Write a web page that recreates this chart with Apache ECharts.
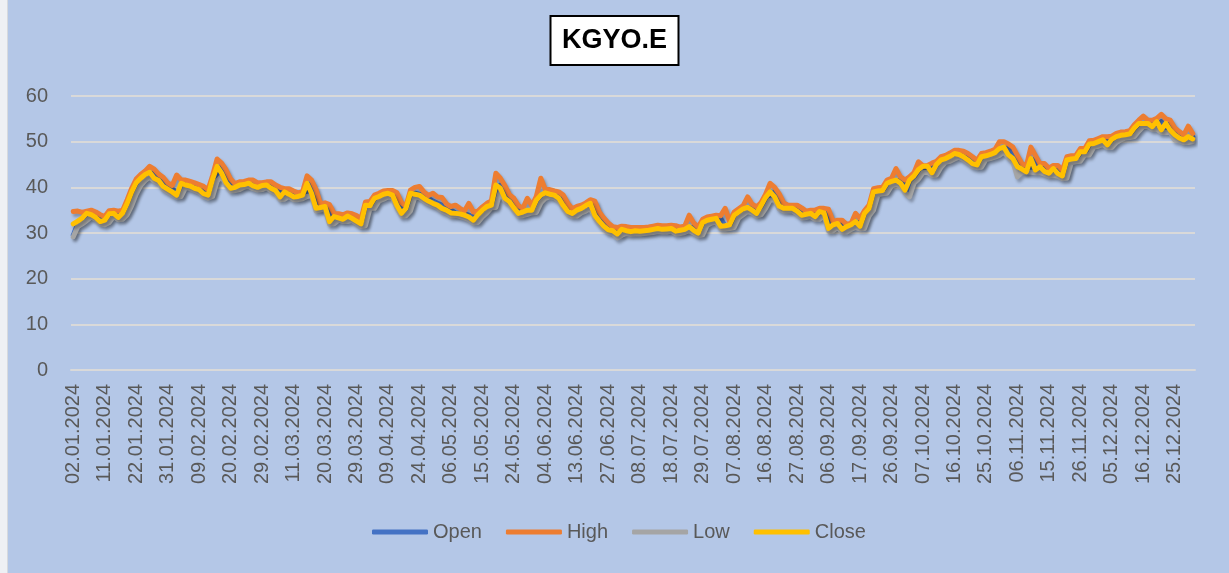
<!DOCTYPE html>
<html>
<head>
<meta charset="utf-8">
<script src="https://cdn.jsdelivr.net/npm/echarts@6/dist/echarts.min.js"></script>
<style>
html,body{margin:0;padding:0;background:#B4C7E7;}
#chart{position:absolute;left:0;top:0;width:1229px;height:573px;}
#strip{position:absolute;left:0;top:0;width:7px;height:573px;background:#eef0f4;border-right:1px solid #d6d9de;z-index:5;}
</style>
</head>
<body>
<div id="chart"></div>
<div id="strip"></div>
<script>
const dates = [
"02.01.2024","03.01.2024","04.01.2024","05.01.2024","08.01.2024","09.01.2024","10.01.2024","11.01.2024","12.01.2024","15.01.2024","16.01.2024","17.01.2024","18.01.2024","19.01.2024","22.01.2024","23.01.2024","24.01.2024","25.01.2024","26.01.2024","29.01.2024","30.01.2024","31.01.2024",
"01.02.2024","02.02.2024","05.02.2024","06.02.2024","07.02.2024","08.02.2024","09.02.2024","12.02.2024","13.02.2024","14.02.2024","15.02.2024","16.02.2024","19.02.2024","20.02.2024","21.02.2024","22.02.2024","23.02.2024","26.02.2024","27.02.2024","28.02.2024","29.02.2024",
"01.03.2024","04.03.2024","05.03.2024","06.03.2024","07.03.2024","08.03.2024","11.03.2024","12.03.2024","13.03.2024","14.03.2024","15.03.2024","18.03.2024","19.03.2024","20.03.2024","21.03.2024","22.03.2024","25.03.2024","26.03.2024","27.03.2024","28.03.2024","29.03.2024",
"01.04.2024","02.04.2024","03.04.2024","04.04.2024","05.04.2024","08.04.2024","09.04.2024","15.04.2024","16.04.2024","17.04.2024","18.04.2024","19.04.2024","22.04.2024","24.04.2024","25.04.2024","26.04.2024","29.04.2024","30.04.2024",
"02.05.2024","03.05.2024","06.05.2024","07.05.2024","08.05.2024","09.05.2024","10.05.2024","13.05.2024","14.05.2024","15.05.2024","16.05.2024","17.05.2024","20.05.2024","21.05.2024","22.05.2024","23.05.2024","24.05.2024","27.05.2024","28.05.2024","29.05.2024","30.05.2024","31.05.2024",
"03.06.2024","04.06.2024","05.06.2024","06.06.2024","07.06.2024","10.06.2024","11.06.2024","12.06.2024","13.06.2024","14.06.2024","20.06.2024","21.06.2024","24.06.2024","25.06.2024","26.06.2024","27.06.2024","28.06.2024",
"01.07.2024","02.07.2024","03.07.2024","04.07.2024","05.07.2024","08.07.2024","09.07.2024","10.07.2024","11.07.2024","12.07.2024","16.07.2024","17.07.2024","18.07.2024","19.07.2024","22.07.2024","23.07.2024","24.07.2024","25.07.2024","26.07.2024","29.07.2024","30.07.2024","31.07.2024",
"01.08.2024","02.08.2024","05.08.2024","06.08.2024","07.08.2024","08.08.2024","09.08.2024","12.08.2024","13.08.2024","14.08.2024","15.08.2024","16.08.2024","19.08.2024","20.08.2024","21.08.2024","22.08.2024","23.08.2024","26.08.2024","27.08.2024","28.08.2024","29.08.2024",
"02.09.2024","03.09.2024","04.09.2024","05.09.2024","06.09.2024","09.09.2024","10.09.2024","11.09.2024","12.09.2024","13.09.2024","16.09.2024","17.09.2024","18.09.2024","19.09.2024","20.09.2024","23.09.2024","24.09.2024","25.09.2024","26.09.2024","27.09.2024","30.09.2024",
"01.10.2024","02.10.2024","03.10.2024","04.10.2024","07.10.2024","08.10.2024","09.10.2024","10.10.2024","11.10.2024","14.10.2024","15.10.2024","16.10.2024","17.10.2024","18.10.2024","21.10.2024","22.10.2024","23.10.2024","24.10.2024","25.10.2024","28.10.2024","30.10.2024","31.10.2024",
"01.11.2024","04.11.2024","05.11.2024","06.11.2024","07.11.2024","08.11.2024","11.11.2024","12.11.2024","13.11.2024","14.11.2024","15.11.2024","18.11.2024","19.11.2024","20.11.2024","21.11.2024","22.11.2024","25.11.2024","26.11.2024","27.11.2024","28.11.2024","29.11.2024",
"02.12.2024","03.12.2024","04.12.2024","05.12.2024","06.12.2024","09.12.2024","10.12.2024","11.12.2024","12.12.2024","13.12.2024","16.12.2024","17.12.2024","18.12.2024","19.12.2024","20.12.2024","23.12.2024","24.12.2024","25.12.2024","26.12.2024","27.12.2024","30.12.2024","31.12.2024"
];

const openValues = [
29.6,32.0,32.5,33.3,34.3,34.0,33.4,32.4,32.8,34.1,
34.3,33.4,34.5,36.6,39.0,41.0,42.0,42.8,43.3,42.0,
41.5,40.2,39.6,39.0,38.4,40.9,40.5,40.3,39.8,39.5,
38.6,38.4,41.8,44.6,43.1,41.0,39.8,40.0,40.5,40.6,
40.9,40.3,40.0,40.4,40.5,39.8,39.3,37.9,39.0,38.5,
37.9,38.0,38.3,40.9,38.7,35.4,35.6,35.8,32.5,33.6,
33.3,33.0,33.7,33.2,32.6,32.0,36.1,36.0,37.6,38.0,
38.5,38.7,38.3,36.0,34.3,35.4,38.7,38.5,38.3,37.6,
37.0,36.5,36.1,35.4,35.0,34.4,34.3,34.2,33.9,33.5,
32.8,34.0,35.0,35.8,36.1,40.5,39.8,37.6,36.9,35.5,
34.3,34.6,35.0,35.0,37.2,38.3,38.8,38.5,38.3,37.6,
36.0,34.7,34.3,35.0,35.4,36.0,36.5,33.9,32.6,31.5,
30.7,30.5,29.8,30.8,30.5,30.3,30.5,30.4,30.5,30.6,
30.8,31.0,30.8,30.9,31.0,30.4,30.6,30.8,31.4,30.6,
30.0,32.3,32.8,33.0,33.2,31.5,31.6,31.8,33.9,34.6,
35.3,35.6,35.0,34.3,36.0,37.8,39.0,37.9,35.9,35.4,
35.4,35.4,34.8,33.9,34.1,34.3,33.6,34.7,34.4,31.0,
31.8,32.1,30.8,31.4,31.8,32.5,31.5,34.3,35.4,39.0,
39.2,39.3,40.9,41.3,41.6,40.9,39.4,41.6,42.5,43.9,
44.0,44.6,43.2,45.0,46.0,46.3,46.8,47.4,47.2,46.7,
46.0,45.2,44.9,46.7,46.9,47.2,47.6,48.5,48.8,47.1,
46.3,44.5,44.0,43.9,46.3,43.8,44.5,43.5,43.1,44.1,
43.0,42.5,46.0,46.2,46.3,47.8,47.8,49.5,49.6,50.0,
50.4,49.3,50.5,51.1,51.4,51.5,51.7,53.0,54.0,54.0,
54.0,53.3,54.4,52.6,54.0,52.5,51.5,50.8,50.4,51.1
];

const highValues = [
34.7,34.8,34.5,34.8,35.0,34.6,34.0,33.6,34.9,35.0,
34.8,35.0,37.3,39.8,41.8,42.8,43.6,44.6,44.0,42.9,
42.2,41.0,40.4,42.7,41.6,41.6,41.3,41.0,40.6,40.2,
39.5,42.6,46.2,45.3,43.8,41.8,40.8,41.2,41.3,41.6,
41.6,41.0,41.0,41.2,41.2,40.5,40.0,39.7,39.7,39.2,
38.8,39.0,42.5,41.6,39.5,36.4,36.6,36.2,34.3,34.2,
34.0,34.4,34.2,33.8,33.1,36.8,36.9,38.3,38.7,39.2,
39.3,39.3,38.8,36.6,35.9,39.4,40.0,40.2,39.0,38.2,
38.7,37.9,37.8,36.4,35.8,36.1,35.4,34.8,36.5,34.6,
34.8,35.7,36.5,37.0,43.1,42.0,40.4,38.4,37.6,36.0,
35.4,37.6,36.0,38.0,42.0,39.5,39.5,39.2,39.0,38.3,
36.5,35.3,35.8,36.1,36.6,37.3,37.0,34.6,33.3,32.2,
31.4,31.2,31.5,31.4,31.2,31.2,31.2,31.2,31.3,31.5,
31.7,31.6,31.6,31.7,31.6,31.3,31.5,33.9,32.2,31.3,
33.0,33.5,33.7,33.9,33.8,35.4,32.5,34.6,35.3,36.0,
37.9,36.3,35.7,36.7,38.5,40.9,40.0,38.6,36.6,36.1,
36.1,36.1,35.5,34.8,35.0,35.0,35.4,35.4,35.2,32.5,
32.8,32.8,31.9,32.1,34.3,33.2,34.9,36.1,39.7,39.9,
40.0,41.6,42.0,44.1,42.3,41.6,42.3,43.2,45.6,44.7,
44.8,45.3,45.7,46.7,47.0,47.5,48.1,48.1,47.9,47.4,
46.7,45.9,47.4,47.6,47.9,48.3,50.0,50.0,49.5,48.8,
47.0,45.2,44.7,48.8,47.0,45.2,45.2,44.2,44.8,44.8,
43.7,46.7,46.9,47.0,48.5,48.5,50.2,50.3,50.7,51.1,
51.1,51.2,51.8,52.1,52.2,52.4,53.7,54.7,55.6,54.7,
54.7,55.1,56.0,55.0,54.7,53.0,52.2,51.5,53.4,51.8
];

const lowValues = [
29.2,31.4,32.0,32.7,33.5,33.0,32.0,31.8,32.3,33.6,
32.9,33.0,34.0,36.0,38.5,40.4,41.5,42.2,41.4,40.9,
39.6,39.0,38.4,37.8,38.0,40.0,39.7,39.3,38.9,38.0,
37.6,38.0,41.4,42.4,40.4,39.2,39.3,39.5,40.0,40.2,
39.7,39.4,39.5,39.9,39.2,38.7,37.3,37.4,38.0,37.3,
37.3,37.5,38.0,38.2,34.8,35.0,35.2,31.9,32.0,32.8,
32.5,32.5,32.7,32.1,31.4,31.6,35.4,35.4,37.0,37.4,
37.9,37.7,35.4,33.7,33.8,34.8,37.9,37.7,37.0,36.4,
36.0,35.5,34.8,34.4,33.8,33.8,33.6,33.3,32.9,32.2,
32.3,33.5,34.4,35.5,35.6,39.2,37.0,36.3,34.9,33.7,
33.8,34.1,34.4,34.5,36.6,37.6,37.9,37.7,37.0,35.4,
34.1,33.7,33.7,34.4,34.8,35.4,33.3,32.0,30.9,30.1,
29.9,28.9,29.5,29.9,29.7,29.8,29.8,29.9,30.0,30.1,
30.3,30.2,30.2,30.4,29.8,29.9,30.1,30.5,30.0,29.4,
29.6,31.7,32.2,32.4,30.9,30.9,31.0,31.2,33.3,34.0,
34.7,34.4,33.7,34.0,35.4,37.2,37.3,35.3,34.8,34.8,
34.8,34.2,33.3,33.4,33.6,33.0,33.0,33.8,30.4,30.5,
31.2,30.2,30.2,30.8,31.2,30.9,31.0,33.7,35.0,38.4,
38.6,38.7,40.3,40.7,40.3,38.8,37.9,40.9,41.8,43.2,
43.3,42.6,42.7,44.4,45.5,45.7,46.2,46.6,46.1,45.4,
44.6,44.3,44.4,46.1,46.3,46.6,47.0,47.8,46.5,45.6,
42.3,43.3,43.3,43.3,43.2,43.2,42.9,42.5,42.6,42.4,
41.9,42.0,45.4,45.6,45.7,47.1,47.1,48.8,49.0,49.4,
48.7,48.7,49.8,50.4,50.8,50.9,51.1,52.3,53.3,53.3,
52.7,52.7,52.0,52.0,52.0,50.4,50.2,49.8,49.8,50.0
];

const closeValues = [
32.0,32.6,33.3,34.3,34.0,33.4,32.5,32.8,34.2,34.3,
33.4,34.4,36.5,39.0,41.0,42.0,42.8,43.3,42.0,41.5,
40.2,39.6,39.0,38.3,40.9,40.5,40.3,39.8,39.5,38.6,
38.3,41.8,44.6,43.1,41.0,39.8,40.0,40.5,40.6,40.9,
40.3,40.0,40.4,40.5,39.8,39.3,37.9,39.0,38.5,37.9,
38.0,38.3,40.9,38.7,35.4,35.6,35.8,32.5,33.6,33.3,
33.0,33.7,33.2,32.6,32.0,36.1,36.0,37.6,38.0,38.5,
38.7,38.3,36.0,34.3,35.4,38.7,38.5,38.3,37.6,37.0,
36.5,36.1,35.4,35.0,34.4,34.3,34.2,33.9,33.5,32.8,
34.0,35.0,35.8,36.1,40.5,39.8,37.6,36.9,35.5,34.3,
34.6,35.0,35.0,37.2,38.3,38.8,38.5,38.3,37.6,36.0,
34.7,34.3,35.0,35.4,36.0,36.5,33.9,32.6,31.5,30.7,
30.5,29.8,30.8,30.5,30.3,30.5,30.4,30.5,30.6,30.8,
31.0,30.8,30.9,31.0,30.4,30.6,30.8,31.4,30.6,30.0,
32.3,32.8,33.0,33.2,31.5,31.6,31.8,33.9,34.6,35.3,
35.6,35.0,34.3,36.0,37.8,39.0,37.9,35.9,35.4,35.4,
35.4,34.8,33.9,34.1,34.3,33.6,34.7,34.4,31.0,31.8,
32.1,30.8,31.4,31.8,32.5,31.5,34.3,35.4,39.0,39.2,
39.3,40.9,41.3,41.6,40.9,39.4,41.6,42.5,43.9,44.6,
44.6,43.2,45.0,46.0,46.3,46.8,47.4,47.2,46.7,46.0,
45.2,44.9,46.7,46.9,47.2,47.6,48.5,48.8,47.1,46.3,
44.5,44.0,43.4,46.3,43.8,44.5,43.5,43.1,44.1,43.0,
42.5,46.0,46.2,46.3,47.8,47.8,49.5,49.6,50.0,50.4,
49.3,50.5,51.1,51.4,51.5,51.7,53.0,54.0,54.0,54.0,
53.3,54.4,52.6,54.0,52.5,51.5,50.8,50.4,51.1,50.6
];

const seriesNames = ["Open", "High", "Low", "Close"];
const seriesColors = ["#4472C4", "#ED7D31", "#A5A5A5", "#FFC000"];
const seriesValues = [openValues, highValues, lowValues, closeValues];

const FONT = "Liberation Sans";
const chart = echarts.init(document.getElementById('chart'), null, {renderer: 'canvas'});
chart.setOption({
  animation: false,
  backgroundColor: '#B4C7E7',
  title: {
    text: 'KGYO.E',
    left: 'center',
    top: 16,
    padding: [9, 12, 9, 12],
    backgroundColor: '#ffffff',
    borderColor: '#000000',
    borderWidth: 2,
    textStyle: {fontFamily: FONT, fontSize: 27, fontWeight: 'bold', color: '#000000', lineHeight: 31}
  },
  legend: {
    data: seriesNames,
    left: 372,
    top: 522,
    padding: 0,
    itemWidth: 56,
    itemHeight: 5,
    itemGap: 24,
    icon: 'roundRect',
    textStyle: {fontFamily: FONT, fontSize: 20, color: '#595959'}
  },
  grid: {left: 71, right: 34, top: 96, bottom: 203, containLabel: false},
  xAxis: {
    type: 'category',
    data: dates,
    boundaryGap: true,
    axisLine: {show: true, lineStyle: {color: '#D9D9D9', width: 2}},
    axisTick: {show: false},
    axisLabel: {interval: 6, rotate: 90, margin: 14, fontFamily: FONT, fontSize: 20, color: '#595959'},
    splitLine: {show: false}
  },
  yAxis: {
    type: 'value',
    min: 0, max: 60, interval: 10,
    axisLine: {show: false},
    axisTick: {show: false},
    axisLabel: {margin: 23, fontFamily: FONT, fontSize: 20, color: '#595959'},
    splitLine: {lineStyle: {color: '#D9D9D9', width: 2}}
  },
  series: seriesNames.map((name, k) => ({
    name: name,
    type: 'line',
    data: seriesValues[k],
    showSymbol: false,
    symbol: 'none',
    color: seriesColors[k],
    lineStyle: {
      width: 5, color: seriesColors[k], join: 'round', cap: 'round',
      shadowColor: 'rgba(0,0,0,0.28)', shadowBlur: 3, shadowOffsetX: 2, shadowOffsetY: 3
    },
    emphasis: {disabled: true}
  }))
});
</script>
</body>
</html>
